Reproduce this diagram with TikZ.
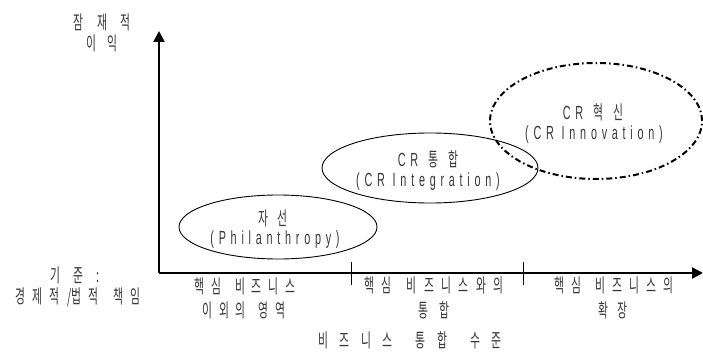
\documentclass[tikz,border=0pt]{standalone}
\usepackage{fontspec}
\usetikzlibrary{shapes.geometric,arrows.meta}
\newfontfamily\kr[FakeStretch=0.57]{Noto Sans CJK KR}
\newfontfamily\lat[FakeStretch=0.57,LetterSpace=25]{Liberation Sans}
\newcommand\skp[1]{\spaceskip=#1pt\relax}
\tikzset{
  kt/.style={text=black!78,inner sep=0pt,font=\fontsize{19}{22}\kr},
  lt/.style={text=black!78,inner sep=0pt,font=\fontsize{19}{22}\lat},
  oval/.style={ellipse,draw=black,line width=0.9pt,inner sep=0pt},
  axisline/.style={line width=2.4pt,-{Triangle[length=11pt,width=11pt]}},
  tickline/.style={line width=1pt}}
\begin{document}
\begin{tikzpicture}[x=1pt,y=-1pt]
\useasboundingbox (0,0) rectangle (703,358);
\coordinate (O) at (159,273);
\coordinate (ytop) at (159,31);
\coordinate (xend) at (703,273);
\coordinate (t1a) at (351,262); \coordinate (t1b) at (351,285);
\coordinate (t2a) at (523,262); \coordinate (t2b) at (523,285);
\draw[axisline] (O) -- (ytop);
\draw[axisline] (O) -- (xend);
\draw[tickline] (t1a) -- (t1b);
\draw[tickline] (t2a) -- (t2b);

\node[oval,minimum width=198pt,minimum height=64pt] (e1) at (278,227) {};
\node[oval,minimum width=216pt,minimum height=70pt] (e2) at (430,168) {};
\node[ellipse,inner sep=0pt,minimum width=212pt,minimum height=116pt] (e3) at (596,121) {};
\draw[line width=2pt,dash pattern=on 6pt off 3pt on 1.5pt off 3pt] (e3.center) ellipse [x radius=106pt,y radius=58pt];

\node[kt] (e1a) at (273,218) {\skp{9.4}자 선};
\node[lt] (e1b) at (275,240) {(Philanthropy)};
\node[kt] (e2a) at (428,159) {\skp{10}{\lat CR} 통 합};
\node[lt] (e2b) at (428,182) {(CR Integration)};
\node[kt] (e3a) at (593,112) {\skp{10}{\lat CR} 혁 신};
\node[lt] (e3b) at (594,135) {(CR Innovation)};

\node[kt] (yl1) at (102,22) {\skp{13.3}잠 재 적};
\node[kt] (yl2) at (102,43) {\skp{11.4}이 익};
\node[kt] (b1) at (75,275) {\skp{12.8}기 준 :};
\node[kt] (b2) at (78,297) {\skp{7.3}경 제 적 /법 적~ 책 임};
\node[kt] (c1a) at (245,286) {\skp{6.9}핵 심~ 비 즈 니 스};
\node[kt] (c1b) at (244,310) {\skp{6.6}이 외 의~ 영 역};
\node[kt] (c2a) at (434,285) {\skp{7.45}핵 심~ 비 즈 니 스 와 의};
\node[kt] (c2b) at (434,310) {\skp{10.4}통 합};
\node[kt] (c3a) at (614,285) {\skp{7.06}핵 심~ 비 즈 니 스 의};
\node[kt] (c3b) at (613,310) {\skp{8.4}확 장};
\node[kt] (xl) at (410,340) {\skp{11.5}비 즈 니 스~ 통 합~ 수 준};
\end{tikzpicture}
\end{document}
